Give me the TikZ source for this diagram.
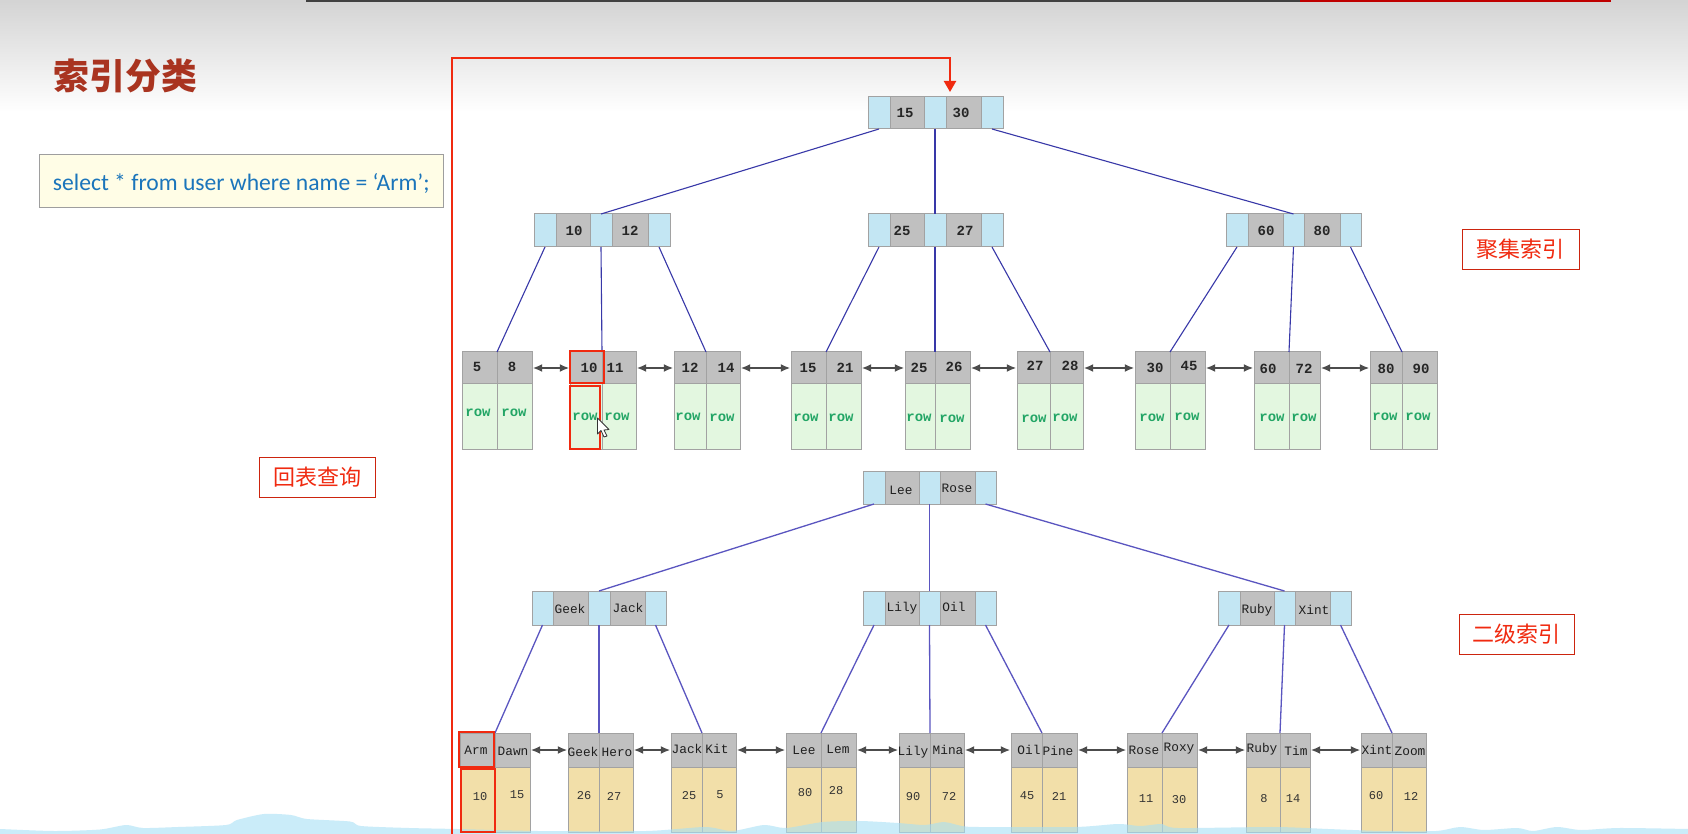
\documentclass[tikz,border=0pt]{standalone}
\usepackage{fontspec}
\usetikzlibrary{arrows.meta}
\setmainfont{Carlito}
\newfontfamily\codefont{Liberation Mono}
\newfontfamily\cjkfont{Noto Sans CJK SC}

\definecolor{ptrblue}{HTML}{C3E6F3}
\definecolor{keygrey}{HTML}{C0C0C0}
\definecolor{cellline}{HTML}{A2A2A2}
\definecolor{rowgreen}{HTML}{E3F7E0}
\definecolor{refsand}{HTML}{F2DFA9}
\definecolor{rowtext}{HTML}{22A565}
\definecolor{alertred}{HTML}{F02A10}
\definecolor{titlered}{HTML}{A93420}
\definecolor{edgeA}{HTML}{3838A8}
\definecolor{edgeB}{HTML}{5A55C0}
\definecolor{sqlblue}{HTML}{1B75BB}
\definecolor{notefill}{HTML}{FFFDE6}
\definecolor{waterblue}{HTML}{A8E0F5}

\tikzset{
  cell/.style={draw=cellline,line width=0.5pt,inner sep=0pt,outer sep=0pt},
  ptrcell/.style={cell,fill=ptrblue},
  keycell/.style={cell,fill=keygrey},
  rowcell/.style={cell,fill=rowgreen},
  refcell/.style={cell,fill=refsand},
  hitbox/.style={draw=alertred,line width=1.3pt,inner sep=0pt,outer sep=0pt},
  edgeone/.style={draw=edgeA,line width=0.55pt},
  edgetwo/.style={draw=edgeB,line width=0.65pt},
  leaflink/.style={draw=black!70,line width=0.6pt,{Latex[length=4.6pt,width=4pt]}-{Latex[length=4.6pt,width=4pt]},shorten >=0.5pt,shorten <=0.5pt},
  numtext/.style={font=\codefont\bfseries\fontsize{7}{8}\selectfont,text=black!85,inner sep=0pt},
  nametext/.style={font=\codefont\fontsize{6.4}{8}\selectfont,text=black!88,inner sep=0pt},
  smalltext/.style={font=\codefont\fontsize{6}{7}\selectfont,text=black!80,inner sep=0pt},
  rowlabel/.style={font=\codefont\bfseries\fontsize{7}{8}\selectfont,text=rowtext,inner sep=0pt},
  tagbox/.style={draw=alertred!85!black,line width=0.45pt,fill=white,inner sep=0pt,outer sep=0pt,text=alertred,
    text height=9.5pt,text depth=1pt,font=\cjkfont\fontsize{11}{12}\selectfont},
}

% a rectangular cell given by its corners, in image pixels
\newcommand\cellbox[6]{%
  \node[#6,minimum width={(#4-#2)*0.5pt},minimum height={(#5-#3)*0.5pt}] (#1)
    at ({(#2+#4)/2},{(#3+#5)/2}) {};}

% internal B+tree page: pointer, key, pointer, key, pointer
\newcommand\innerpage[9]{%
  \cellbox{#1a}{#2}{#8}{#3}{#9}{ptrcell}
  \cellbox{#1b}{#3}{#8}{#4}{#9}{keycell}
  \cellbox{#1c}{#4}{#8}{#5}{#9}{ptrcell}
  \cellbox{#1d}{#5}{#8}{#6}{#9}{keycell}
  \cellbox{#1e}{#6}{#8}{#7}{#9}{ptrcell}}

% leaf page: two key cells above two payload cells
\newcommand\leafpage[8]{%
  \cellbox{#1k}{#2}{#5}{#3}{#6}{keycell}
  \cellbox{#1l}{#3}{#5}{#4}{#6}{keycell}
  \cellbox{#1p}{#2}{#6}{#3}{#7}{#8}
  \cellbox{#1q}{#3}{#6}{#4}{#7}{#8}}

\begin{document}
\begin{tikzpicture}[x=0.5pt,y=-0.5pt]
\useasboundingbox (0,0) rectangle (1688,834);
\fill[white] (0,0) rectangle (1688,834);

% slide header
\shade[top color=black!17,bottom color=white] (0,0) rectangle (1688,112);
\fill[black!72] (5,0) arc[start angle=180,end angle=360,x radius=18.5,y radius=3.2] -- cycle;
\fill[black!75] (306,0) rectangle (1300,2.5);
\fill[red!75!black] (1300,0) rectangle (1611,2.5);
\node[font=\cjkfont\bfseries\fontsize{17.9}{20}\selectfont,text=titlered,inner sep=0pt] (title) at (125.5,76) {索引分类};

% query note
\node[draw=black!38,line width=0.5pt,fill=notefill,inner sep=0pt,outer sep=0pt,
      minimum width=201.8pt,minimum height=26.5pt,text=sqlblue,text height=9.2pt,text depth=0pt,
      font=\fontsize{11.8}{14}\selectfont] (query)
  at (241.2,181.5) {select * from user where name = ‘Arm’;};

% clustered index pages
\innerpage{R}{868}{890}{924}{946}{981}{1003}{97}{129}
\innerpage{A}{534}{556}{590}{612}{648}{670}{214}{247}
\innerpage{B}{868}{890}{924}{946}{981}{1003}{214}{247}
\innerpage{C}{1226}{1248}{1283}{1304}{1340}{1361}{214}{247}

\leafpage{a}{462}{497}{532}{352}{384}{449}{rowcell}
\leafpage{b}{570}{602}{636}{352}{384}{449}{rowcell}
\leafpage{c}{674}{706}{740}{352}{384}{449}{rowcell}
\leafpage{d}{791}{826}{861}{352}{384}{449}{rowcell}
\leafpage{e}{905}{935}{970}{352}{384}{449}{rowcell}
\leafpage{f}{1017}{1050}{1083}{352}{384}{449}{rowcell}
\leafpage{g}{1135}{1170}{1205}{352}{384}{449}{rowcell}
\leafpage{h}{1254}{1289}{1320}{352}{384}{449}{rowcell}
\leafpage{i}{1370}{1402}{1437}{352}{384}{449}{rowcell}

\foreach \n/\m in {Ra/Ac,Rc/Bc,Re/Cc}
  \draw[edgeone] (\n.south) -- (\m.north);
\foreach \n/\m in {Aa/a,Ac/b,Ae/c,Ba/d,Bc/e,Be/f,Ca/g,Cc/h,Ce/i}
  \draw[edgeone] (\n.south) -- (\m k.north east);
\foreach \n/\m in {a/b,b/c,c/d,d/e,e/f,f/g,g/h,h/i}
  \draw[leaflink] (\n l.east) -- (\m k.west);

\foreach \px/\py/\txt in {905/113/15,961/113/30,574/231/10,630/231/12,902/231/25,965/231/27,1266/231/60,1322/231/80,
  477/367/5,512/367/8,589/368/10,615/368/11,690/368/12,726/368/14,808/368/15,845/368/21,919/368/25,954/367/26,
  1035/366/27,1070/366/28,1155/368/30,1189/366/45,1268/369/60,1304/369/72,1386/369/80,1421/369/90}
  \node[numtext,name=key\px] at (\px,\py) {\txt};

\foreach \px/\py in {478/413,514/413,585/417,617/417,688/417,722/418,806/418,841/418,919/418,952/419,
  1034/419,1065/418,1152/418,1187/417,1272/418,1304/418,1385/417,1418/417}
  \node[rowlabel,name=row\px] at (\px,\py) {row};

% secondary index pages
\innerpage{S}{863}{885}{919}{940}{975}{996}{471}{504}
\innerpage{T}{532}{553}{588}{610}{645}{666}{591}{625}
\innerpage{U}{863}{885}{919}{940}{975}{996}{591}{625}
\innerpage{V}{1218}{1240}{1274}{1295}{1330}{1351}{591}{625}

\leafpage{m}{460}{495}{530}{733}{767}{832}{refcell}
\leafpage{n}{568}{599}{633}{733}{767}{832}{refcell}
\leafpage{o}{671}{702}{736}{733}{767}{832}{refcell}
\leafpage{p}{786}{821}{856}{733}{767}{832}{refcell}
\leafpage{q}{899}{930}{964}{733}{767}{832}{refcell}
\leafpage{r}{1011}{1042}{1077}{733}{767}{832}{refcell}
\leafpage{s}{1127}{1162}{1197}{733}{767}{832}{refcell}
\leafpage{t}{1246}{1280}{1310}{733}{767}{832}{refcell}
\leafpage{u}{1361}{1392}{1426}{733}{767}{832}{refcell}

\foreach \n/\m in {Sa/Tc,Sc/Uc,Se/Vc}
  \draw[edgetwo] (\n.south) -- (\m.north);
\foreach \n/\m in {Ta/m,Tc/n,Te/o,Ua/p,Uc/q,Ue/r,Va/s,Vc/t,Ve/u}
  \draw[edgetwo] (\n.south) -- (\m l.north west);
\foreach \n/\m in {m/n,n/o,o/p,p/q,q/r,r/s,s/t,t/u}
  \draw[leaflink] (\n l.east) -- (\m k.west);

\foreach \px/\py/\txt in {901/490/Lee,957/488/Rose,570/609/Geek,628/608/Jack,902/608/Lily,954/607/Oil,1257/610/Ruby,1314/610/Xint,
  476/750/Arm,513/751/Dawn,583/752/Geek,617/752/Hero,687/749/Jack,717/749/Kit,804/750/Lee,838/749/Lem,
  913/752/Lily,948/750/Mina,1029/750/Oil,1058/751/Pine,1144/750/Rose,1179/749/Roxy,1262/749/Ruby,1296/751/Tim,
  1377/750/Xint,1410/751/Zoom}
  \node[nametext,name=idx\px] at (\px,\py) {\txt};

\foreach \px/\py/\txt in {480/797/10,517/795/15,584/796/26,614/796/27,689/796/25,720/795/5,805/793/80,836/791/28,
  913/797/90,949/796/72,1027/796/45,1059/796/21,1146/799/11,1179/800/30,1264/799/8,1293/799/14,1376/796/60,1411/796/12}
  \node[smalltext,name=ref\px] at (\px,\py) {\txt};

% water band along the bottom edge of the slide
\fill[waterblue,opacity=0.6] (0,834) -- plot[smooth,tension=0.45] coordinates {
  (0,829) (54,831) (100,829.5) (126,825) (143,828) (178,827) (226,825) (237,820) (264,814) (291,815) (307,819)
  (350,821.5) (361,826) (409,828) (457,829) (538,831) (646,831) (705,827) (732,831) (764,825) (786,828) (823,822)
  (860,821) (898,823) (925,825) (944,822) (962,826) (979,827) (1075,827) (1118,824) (1140,826) (1162,824) (1178,828)
  (1275,827) (1328,829) (1382,831) (1436,831) (1460,827) (1484,830) (1517,828) (1533,831) (1557,827) (1581,830)
  (1619,828) (1688,829)} -- (1688,834) -- cycle;

% lookup highlights
\cellbox{hitA}{570}{351}{604}{383}{hitbox}
\cellbox{hitB}{570}{386}{600}{449}{hitbox}
\cellbox{hitC}{459}{732}{494}{767}{hitbox}
\cellbox{hitD}{461}{769}{495}{832}{hitbox}

% back-to-table jump into the clustered root
\coordinate (jumpstart) at (452,834);
\coordinate (jumpcorner) at (452,58);
\coordinate (jumpturn) at (950,58);
\coordinate (jumpend) at (950,92);
\draw[draw=alertred,line width=1.1pt,-{Triangle[length=5.5pt,width=6pt]}] (jumpstart) -- (jumpcorner) -- (jumpturn) -- (jumpend);

% tags
\node[tagbox,minimum width=58.5pt,minimum height=20pt] (tagA) at (1520.5,249) {聚集索引};
\node[tagbox,minimum width=57.5pt,minimum height=20pt] (tagB) at (1516.5,634) {二级索引};
\node[tagbox,minimum width=58pt,minimum height=20pt] (tagC) at (317,477) {回表查询};

% mouse pointer
\draw[fill=white,draw=black!80,line width=0.4pt,line join=round]
  (597.5,418) -- (597.5,434) -- (601,430.5) -- (604,437) -- (607,436) -- (604,430) -- (609,429.5) -- cycle;
\end{tikzpicture}
\end{document}
